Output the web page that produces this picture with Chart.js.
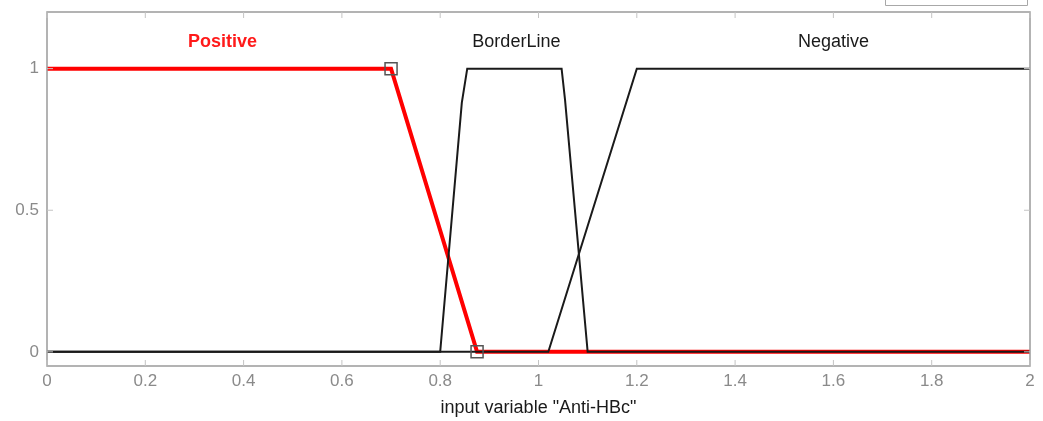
<!DOCTYPE html>
<html><head><meta charset="utf-8">
<script src="https://cdn.jsdelivr.net/npm/chart.js@4/dist/chart.umd.min.js"></script>
<style>html,body{margin:0;padding:0;background:#fff}#wrap{width:1043px;height:421px}</style>
</head><body><div id="wrap"><canvas id="c" width="1043" height="421"></canvas></div>
<script>
// Membership functions (x, y)
const positiveX = [0, 0.7, 0.875, 2];
const positiveY = [1, 1, 0, 0];
const borderX = [0, 0.8, 0.844, 0.855, 1.047, 1.054, 1.1, 2];
const borderY = [0, 0, 0.88, 1, 1, 0.89, 0, 0];
const negativeX = [0, 1.02, 1.2, 2];
const negativeY = [0, 0, 1, 1];
const markerX = [0.7, 0.875];
const markerY = [1, 0];
const xTicks = [0, 0.2, 0.4, 0.6, 0.8, 1, 1.2, 1.4, 1.6, 1.8, 2];
const yTicks = [0, 0.5, 1];
const mfNames = ["Positive", "BorderLine", "Negative"];
const mfLabelX = [0.357, 0.955, 1.6];
const xTitle = 'input variable "Anti-HBc"';

const pts = (xs, ys) => xs.map((x, i) => ({x, y: ys[i]}));
const FONT = '"Liberation Sans", Arial, sans-serif';

const deco = {
  id: 'deco',
  afterDraw(chart) {
    const ctx = chart.ctx, a = chart.chartArea;
    const xs = chart.scales.x, ys = chart.scales.y;
    ctx.save();
    // box
    ctx.strokeStyle = '#9a9a9a'; ctx.lineWidth = 1.5;
    ctx.strokeRect(a.left, a.top, a.right - a.left, a.bottom - a.top);
    // inward ticks
    ctx.lineWidth = 1; ctx.strokeStyle = '#c4c4c4';
    ctx.beginPath();
    xTicks.forEach(v => {
      const p = xs.getPixelForValue(v);
      ctx.moveTo(p, a.bottom); ctx.lineTo(p, a.bottom - 6);
      ctx.moveTo(p, a.top); ctx.lineTo(p, a.top + 6);
    });
    yTicks.forEach(v => {
      const p = ys.getPixelForValue(v);
      ctx.moveTo(a.left, p); ctx.lineTo(a.left + 6, p);
      ctx.moveTo(a.right, p); ctx.lineTo(a.right - 6, p);
    });
    ctx.stroke();
    // partial box at top right
    ctx.strokeStyle = '#a8a8a8'; ctx.lineWidth = 1;
    ctx.beginPath();
    ctx.moveTo(885.5, 0); ctx.lineTo(885.5, 5.5); ctx.lineTo(1027.5, 5.5); ctx.lineTo(1027.5, 0);
    ctx.stroke();
    // MF names
    ctx.textAlign = 'center'; ctx.textBaseline = 'middle';
    mfNames.forEach((n, i) => {
      ctx.font = (i === 0 ? 'bold ' : '') + '18px ' + FONT;
      ctx.fillStyle = i === 0 ? '#ff1a1a' : '#1a1a1a';
      ctx.fillText(n, xs.getPixelForValue(mfLabelX[i]), 42);
    });
    ctx.restore();
  }
};

new Chart(document.getElementById('c'), {
  type: 'scatter',
  data: {
    datasets: [
      {data: pts(markerX, markerY), showLine: false, pointStyle: 'rect', pointRadius: 8.5,
       pointBackgroundColor: 'rgba(0,0,0,0)', pointBorderColor: '#555', pointBorderWidth: 1.5, order: 0},
      {data: pts(negativeX, negativeY), showLine: true, borderColor: '#1a1a1a', borderWidth: 2, pointRadius: 0, order: 1},
      {data: pts(borderX, borderY), showLine: true, borderColor: '#1a1a1a', borderWidth: 2, pointRadius: 0, order: 2},
      {data: pts(positiveX, positiveY), showLine: true, borderColor: '#ff0000', borderWidth: 4, pointRadius: 0, order: 3}
    ]
  },
  options: {
    responsive: false, animation: false, events: [],
    layout: {padding: {top: 12, right: 13, left: 0, bottom: 0}},
    plugins: {legend: {display: false}, tooltip: {enabled: false}},
    scales: {
      x: {
        type: 'linear', min: 0, max: 2,
        afterBuildTicks: s => { s.ticks = xTicks.map(v => ({value: v})); },
        afterFit: s => { s.height = 55; s.paddingLeft = 0; s.paddingRight = 0; },
        grid: {display: false, drawTicks: false},
        border: {display: false},
        ticks: {color: '#8a8a8a', font: {family: FONT, size: 17}, padding: 5, maxRotation: 0,
                callback: v => String(+v.toFixed(1))},
        title: {display: true, text: xTitle, color: '#1a1a1a', font: {family: FONT, size: 18}, padding: {top: 0, bottom: 2}}
      },
      y: {
        type: 'linear', min: -0.05, max: 1.2,
        afterBuildTicks: s => { s.ticks = yTicks.map(v => ({value: v})); },
        afterFit: s => { s.width = 47; s.paddingTop = 0; s.paddingBottom = 0; },
        grid: {display: false, drawTicks: false},
        border: {display: false},
        ticks: {color: '#8a8a8a', font: {family: FONT, size: 17}, padding: 8,
                callback: v => String(v)}
      }
    }
  },
  plugins: [deco]
});
</script>
</body></html>
